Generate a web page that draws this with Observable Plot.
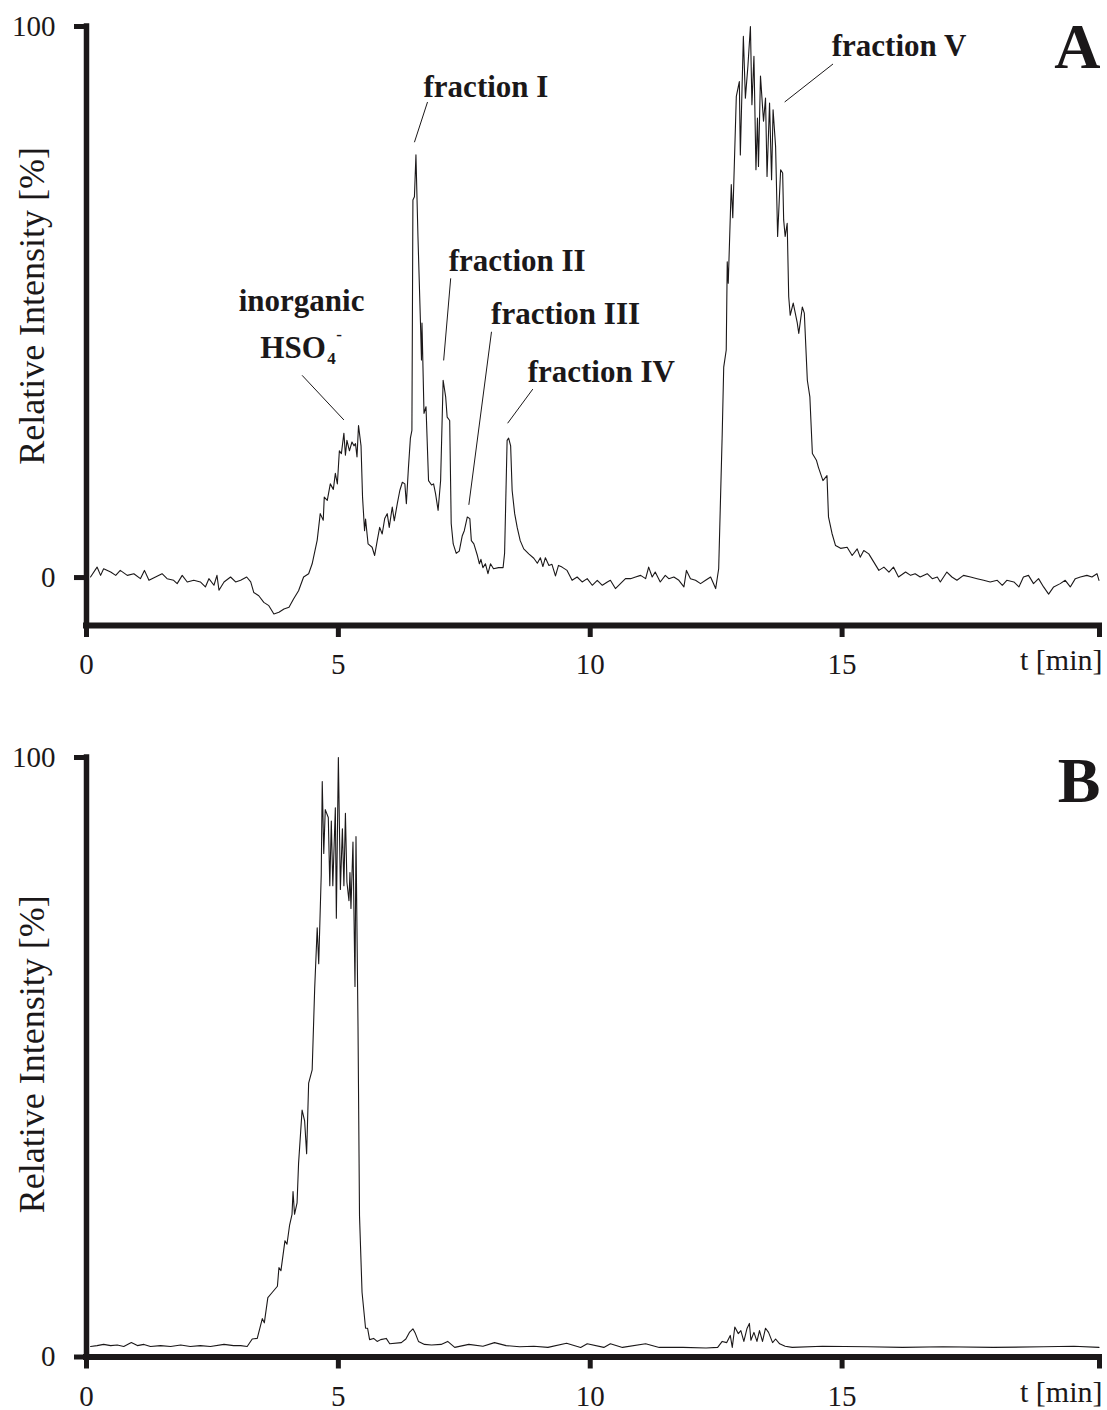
<!DOCTYPE html>
<html><head><meta charset="utf-8">
<script src="https://cdn.jsdelivr.net/npm/d3@7"></script>
<script src="https://cdn.jsdelivr.net/npm/@observablehq/plot@0.6"></script>
<style>body{margin:0;background:#fff} svg{display:block}</style>
</head><body><div id="chart"></div>
<script>
// ---------- data: panel A (retention time in min, relative intensity in %) ----------
const timeA = [
 0.08,0.21,0.28,0.34,0.48,0.58,0.67,0.81,0.94,1.07,
 1.15,1.24,1.37,1.50,1.60,1.73,1.80,1.90,2.00,2.13,
 2.26,2.36,2.43,2.53,2.59,2.63,2.73,2.86,2.96,3.06,
 3.18,3.26,3.32,3.42,3.52,3.62,3.72,3.82,3.92,4.02,
 4.11,4.21,4.31,4.41,4.48,4.58,4.64,4.70,4.72,4.78,
 4.84,4.90,4.94,4.98,5.02,5.06,5.11,5.14,5.17,5.22,
 5.27,5.31,5.34,5.37,5.40,5.45,5.48,5.52,5.54,5.59,
 5.67,5.72,5.77,5.82,5.87,5.92,5.97,6.01,6.07,6.11,
 6.17,6.22,6.27,6.32,6.35,6.39,6.43,6.46,6.48,6.51,
 6.54,6.58,6.63,6.65,6.66,6.70,6.74,6.79,6.85,6.89,
 6.93,6.98,7.03,7.08,7.13,7.16,7.21,7.24,7.28,7.34,
 7.40,7.46,7.50,7.56,7.61,7.64,7.69,7.76,7.80,7.83,
 7.87,7.92,7.97,8.02,8.08,8.18,8.27,8.30,8.35,8.38,
 8.42,8.45,8.50,8.55,8.61,8.68,8.78,8.88,8.95,9.01,
 9.06,9.11,9.18,9.24,9.31,9.37,9.44,9.54,9.64,9.74,
 9.84,9.94,10.04,10.14,10.24,10.34,10.40,10.50,10.60,10.70,
 10.80,10.90,11.00,11.10,11.16,11.23,11.29,11.39,11.49,11.56,
 11.66,11.76,11.86,11.91,11.99,12.09,12.19,12.29,12.39,12.49,
 12.55,12.62,12.65,12.70,12.72,12.74,12.80,12.83,12.90,12.96,
 12.98,13.04,13.08,13.13,13.18,13.21,13.25,13.29,13.32,13.34,
 13.38,13.44,13.48,13.51,13.56,13.60,13.63,13.68,13.72,13.78,
 13.82,13.84,13.87,13.91,13.94,13.97,14.03,14.11,14.14,14.21,
 14.25,14.31,14.36,14.41,14.49,14.53,14.62,14.70,14.73,14.80,
 14.87,14.97,15.10,15.20,15.30,15.36,15.43,15.53,15.63,15.73,
 15.83,15.93,16.02,16.12,16.26,16.36,16.45,16.55,16.69,16.79,
 16.89,16.95,17.08,17.18,17.28,17.41,17.55,17.68,17.81,17.94,
 18.08,18.18,18.27,18.41,18.51,18.60,18.70,18.80,18.90,19.00,
 19.10,19.20,19.33,19.43,19.53,19.63,19.73,19.86,19.96,20.06,20.10
];
const intensityA = [
 0.1,1.9,0.4,1.6,1.0,0.4,1.3,0.4,0.7,-0.2,
 1.3,-0.5,0.1,0.7,-0.2,-0.5,-1.1,0.4,-0.8,-0.5,
 -0.8,-1.7,-0.2,-1.4,0.4,-2.3,-0.8,0.1,-0.8,-0.5,
 0.1,-0.8,-2.7,-3.3,-4.5,-5.1,-6.6,-6.3,-5.7,-5.4,
 -3.9,-2.4,0.1,0.7,2.5,6.8,11.6,10.4,14.6,14.0,
 17.0,16.0,18.9,17.0,23.0,22.5,26.2,22.2,24.9,23.0,
 24.6,23.9,24.3,21.9,27.6,23.9,14.6,8.5,10.6,6.1,
 5.5,4.0,6.6,9.1,7.9,10.7,11.6,9.1,12.8,10.3,
 13.4,15.8,17.3,17.0,13.4,19.8,25.3,26.7,68.5,69.1,
 76.7,61.9,46.2,39.5,46.2,29.8,31.0,17.6,16.8,17.0,
 15.2,12.2,17.6,35.8,32.8,29.1,28.5,9.8,6.1,4.4,
 4.8,7.6,8.5,11.0,10.7,6.7,6.1,4.0,2.5,3.3,
 1.8,2.5,0.7,2.5,1.6,1.8,1.8,4.4,24.9,25.3,
 23.9,15.8,11.6,9.1,6.7,5.2,4.3,3.5,2.6,3.6,
 2.0,3.6,2.2,2.4,0.3,2.2,1.9,1.3,-0.5,0.1,
 -0.8,-0.2,-1.4,-0.5,-1.4,-0.8,-0.5,-2.0,-1.1,-0.2,
 -0.2,0.1,0.4,-0.2,1.9,0.1,1.0,-0.8,0.4,-0.2,
 0.1,-0.5,-1.7,1.3,-0.2,-0.5,-1.1,-0.5,0.1,-2.0,
 1.6,26.0,38.2,41.3,57.3,53.4,71.3,65.3,87.3,90.0,
 76.7,98.2,87.0,92.8,100,85.8,94.6,74.0,83.4,74.6,
 91.0,82.8,87.0,72.8,86.1,72.2,84.9,78.2,61.9,74.0,
 73.4,64.9,61.9,64.3,51.0,47.6,49.8,46.2,44.3,49.1,
 48.0,35.8,32.8,22.5,21.3,20.0,17.6,18.5,11.0,8.0,
 5.8,5.3,5.5,4.0,5.2,3.7,4.9,4.3,2.8,1.3,
 1.9,1.0,1.9,0.1,1.0,0.4,0.7,0.1,0.7,-0.2,
 0.1,-0.8,1.0,0.1,-0.5,0.4,0.1,-0.2,-0.5,-0.8,
 -0.5,-1.4,-0.5,-0.8,-1.7,0.1,0.4,-1.1,-0.2,-1.7,
 -3.0,-1.7,-1.1,-0.5,-1.7,-0.2,0.1,0.4,0.1,0.7,-0.5
];

// ---------- data: panel B ----------
const timeB = [
 0.08,0.21,0.34,0.48,0.61,0.74,0.89,1.01,1.14,1.27,
 1.47,1.67,1.87,2.06,2.26,2.46,2.73,2.92,3.06,3.19,
 3.29,3.39,3.49,3.53,3.60,3.69,3.79,3.82,3.86,3.94,
 3.98,4.03,4.08,4.10,4.13,4.18,4.21,4.28,4.33,4.37,
 4.41,4.48,4.53,4.58,4.61,4.66,4.68,4.71,4.74,4.80,
 4.83,4.86,4.89,4.94,4.96,5.00,5.04,5.08,5.11,5.14,
 5.17,5.21,5.23,5.25,5.29,5.33,5.35,5.39,5.42,5.47,
 5.54,5.58,5.62,5.70,5.77,5.84,5.95,6.02,6.25,6.34,
 6.41,6.48,6.53,6.59,6.71,6.85,7.04,7.17,7.31,7.59,
 7.87,8.10,8.33,8.60,8.88,9.16,9.53,9.81,9.94,10.27,
 10.40,10.64,11.10,11.37,11.84,12.30,12.53,12.62,12.71,12.78,
 12.82,12.87,12.94,12.99,13.05,13.11,13.16,13.19,13.25,13.31,
 13.36,13.42,13.48,13.54,13.62,13.68,13.76,13.87,14.01,14.61,
 15.50,16.20,17.00,18.00,19.00,19.60,20.10
];
const intensityB = [
 1.75,1.9,2.1,1.9,2.0,1.75,2.4,1.9,2.1,1.75,
 1.9,1.75,2.0,1.75,1.9,1.75,2.1,1.9,1.9,1.75,
 3.0,3.1,6.4,5.7,9.9,10.8,11.8,14.9,14.4,19.4,
 18.8,21.9,23.8,27.6,23.8,25.7,32.3,41.2,39.4,33.9,
 45.7,47.9,61.5,71.6,65.6,80.5,96.0,84.0,91.3,90.0,
 78.6,89.4,78.6,91.6,73.2,100,78.0,88.1,78.6,90.7,
 79.2,76.1,80.8,74.8,85.9,61.8,86.8,55.1,23.5,10.8,
 4.8,4.8,2.9,3.1,2.6,2.9,3.1,2.2,2.4,3.0,
 4.1,4.7,3.9,2.6,2.1,2.0,2.1,2.6,1.6,2.1,
 1.8,2.4,1.9,1.7,1.8,1.6,2.3,1.6,2.2,1.6,
 2.2,1.6,2.2,1.6,1.6,1.5,1.6,2.6,2.4,3.6,
 1.6,5.0,3.9,4.4,2.6,4.7,5.6,2.8,4.1,2.6,
 4.4,2.6,4.8,4.1,2.4,3.0,2.2,1.8,1.6,1.8,
 1.7,1.6,1.7,1.6,1.7,1.8,1.6
];

// ---------- axes ----------
const xDomain = [0, 20.11];
const xTicks = [0, 5, 10, 15, 20.11];
const xTickLabels = ["0", "5", "10", "15", ""];
const yTicks = [0, 100];
const xTitle = "t [min]";
const yTitle = "Relative Intensity [%]";
const yDomainA = [-8.7, 100];
const yDomainB = [0, 100];

// ---------- annotations (panel A, in data units) ----------
const annLabels = ["inorganic", "fraction I", "fraction II", "fraction III", "fraction IV", "fraction V"];
const annT = [4.27, 7.93, 8.55, 9.51, 10.22, 16.13];
const annV = [48.3, 87.2, 55.7, 46.1, 35.4, 94.7];
const formulaParts = ["HSO", "4", "-"];
const formulaT = [3.45, 4.78, 4.96];
const formulaV = [39.9, 38.8, 43.2];
const leadT1 = [4.28, 6.77, 7.23, 8.04, 8.86, 14.82];
const leadV1 = [36.7, 86.3, 54.3, 44.6, 34.2, 93.2];
const leadT2 = [5.11, 6.51, 7.09, 7.59, 8.36, 13.86];
const leadV2 = [28.6, 79.0, 39.4, 13.2, 28.0, 86.3];
const panelLetters = ["A", "B"];

// ---------- build ----------
const ink = "#1b1819";
const font = "'Liberation Serif', 'Times New Roman', Times, serif";
const seriesA = timeA.map((t, i) => ({t, v: intensityA[i]}));
const seriesB = timeB.map((t, i) => ({t, v: intensityB[i]}));
const annotations = annLabels.map((label, i) => ({label, t: annT[i], v: annV[i]}));
const formula = formulaParts.map((label, i) => ({label, t: formulaT[i], v: formulaV[i]}));
const leaders = leadT1.map((t1, i) => ({t1, v1: leadV1[i], t2: leadT2[i], v2: leadV2[i]}));

function panel({data, yDomain, height, marginTop, marginBottom, titleV, letter, letterV, xTitleDy, extra}) {
  return Plot.plot({
    width: 1107, height,
    marginLeft: 86, marginRight: 8, marginTop, marginBottom,
    x: {domain: xDomain},
    y: {domain: yDomain},
    style: {fontFamily: font, fontSize: "29px", color: ink, background: "white", overflow: "visible"},
    marks: [
      Plot.line(data, {x: "t", y: "v", stroke: ink, strokeWidth: 1.1}),
      Plot.ruleX([xDomain[0]], {y1: yDomain[0], y2: yDomain[1], stroke: ink, strokeWidth: 5.5, strokeLinecap: "square"}),
      Plot.ruleY([yDomain[0]], {x1: xDomain[0], x2: xDomain[1], stroke: ink, strokeWidth: 6, strokeLinecap: "square"}),
      Plot.axisX({ticks: xTicks, tickSize: 12, tickPadding: 16, strokeWidth: 5, fontSize: 29,
        tickFormat: d => xTickLabels[xTicks.indexOf(d)], label: null}),
      Plot.axisY({ticks: yTicks, tickSize: 12, tickPadding: 19, strokeWidth: 5, fontSize: 29, label: null}),
      Plot.text([{label: yTitle, v: titleV}], {y: "v", text: "label", frameAnchor: "left", rotate: -90,
        dx: -43, lineAnchor: "bottom", textAnchor: "middle", fontSize: 36, fill: ink}),
      Plot.text([xTitle], {frameAnchor: "bottom-right", textAnchor: "end", lineAnchor: "bottom",
        dx: 3, dy: xTitleDy, fontSize: 30, fill: ink}),
      Plot.text([{label: letter, t: 20.13, v: letterV}], {x: "t", y: "v", text: "label", textAnchor: "end",
        lineAnchor: "bottom", fontSize: 64, fontWeight: "bold", fill: ink}),
      ...(extra || [])
    ]
  });
}

const extraA = [
  Plot.link(leaders, {x1: "t1", y1: "v1", x2: "t2", y2: "v2", stroke: ink, strokeWidth: 1}),
  Plot.text(annotations, {x: "t", y: "v", text: "label", textAnchor: "middle", lineAnchor: "bottom",
    fontSize: 31, fontWeight: "bold", fill: ink}),
  Plot.text(formula, {x: "t", y: "v", text: "label", textAnchor: "start", lineAnchor: "bottom",
    fontSize: (d, i) => i === 0 ? 31 : 17, fontWeight: "bold", fill: ink})
];

const chartA = panel({data: seriesA, yDomain: yDomainA, height: 700, marginTop: 26, marginBottom: 75,
  titleV: 49.3, letter: panelLetters[0], letterV: 92.4, xTitleDy: 44, extra: extraA});
const chartB = panel({data: seriesB, yDomain: yDomainB, height: 710, marginTop: 57, marginBottom: 53.5,
  titleV: 50.5, letter: panelLetters[1], letterV: 92.5, xTitleDy: 45});

const root = document.getElementById("chart");
root.appendChild(chartA);
root.appendChild(chartB);
</script>
</body></html>
